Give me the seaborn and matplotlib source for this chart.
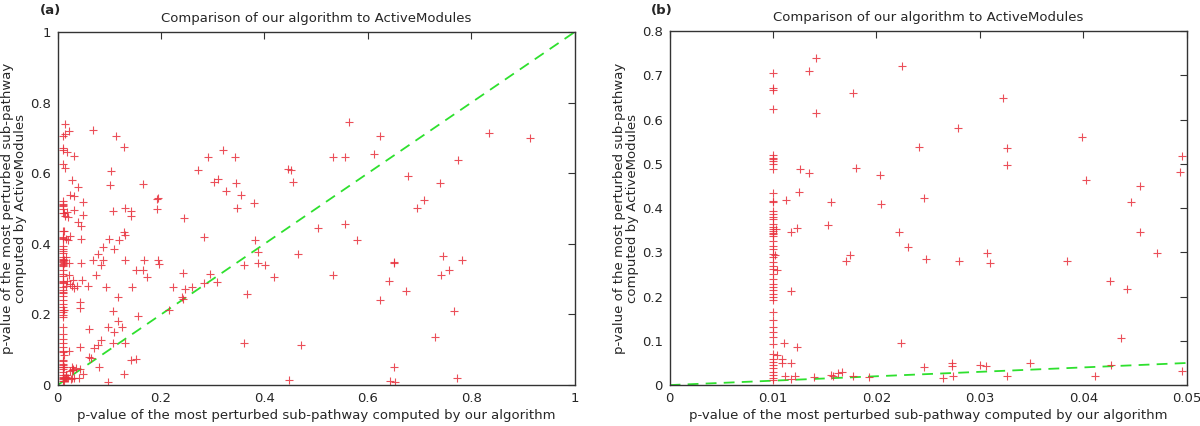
import numpy as np
import pandas as pd
import matplotlib
matplotlib.use('Agg')
import matplotlib.pyplot as plt
import seaborn as sns

# p-values: our algorithm (x) vs ActiveModules (y)

# points stacked on x = 0.01
column_y = [0.706, 0.672, 0.666, 0.625, 0.521, 0.514, 0.510, 0.506, 0.499, 0.488,
            0.435, 0.416, 0.413, 0.394, 0.386, 0.379, 0.375, 0.364, 0.357, 0.352,
            0.348, 0.344, 0.341, 0.338, 0.326, 0.315, 0.308, 0.296, 0.289, 0.278,
            0.270, 0.263, 0.251, 0.240, 0.229, 0.221, 0.214, 0.206, 0.199, 0.193,
            0.165, 0.146, 0.131, 0.120, 0.109, 0.094, 0.071, 0.060, 0.052, 0.045,
            0.038, 0.030, 0.023, 0.016, 0.011]
column_x = [0.01] * len(column_y)

# scattered points with small p-values
small_x = [0.0135, 0.0142, 0.0142, 0.0177, 0.0225, 0.0322, 0.0103, 0.0102, 0.0104, 0.0104,
           0.0109, 0.0109, 0.0111, 0.0113, 0.0117, 0.0117, 0.0117, 0.0112, 0.0117, 0.0121,
           0.0123, 0.0123, 0.0125, 0.0126, 0.0135, 0.0140, 0.0153, 0.0156, 0.0156, 0.0158,
           0.0163, 0.0167, 0.0171, 0.0174, 0.0177, 0.0180, 0.0193, 0.0203, 0.0204, 0.0222,
           0.0224, 0.0230, 0.0241, 0.0246, 0.0248, 0.0246, 0.0279, 0.0326, 0.0326, 0.0399,
           0.0403, 0.0495, 0.0493, 0.0455, 0.0446, 0.0455, 0.0471, 0.0280, 0.0307, 0.0310,
           0.0384, 0.0426, 0.0442, 0.0436, 0.0273, 0.0273, 0.0264, 0.0274, 0.0300, 0.0306,
           0.0326, 0.0348, 0.0411, 0.0427, 0.0495]
small_y = [0.710, 0.740, 0.615, 0.660, 0.720, 0.648, 0.353, 0.293, 0.260, 0.068,
           0.058, 0.050, 0.096, 0.418, 0.347, 0.212, 0.050, 0.020, 0.013, 0.020,
           0.355, 0.086, 0.437, 0.488, 0.480, 0.019, 0.362, 0.414, 0.022, 0.020,
           0.028, 0.030, 0.280, 0.295, 0.020, 0.490, 0.019, 0.475, 0.410, 0.347,
           0.096, 0.313, 0.539, 0.422, 0.285, 0.041, 0.580, 0.535, 0.497, 0.560,
           0.463, 0.518, 0.482, 0.450, 0.414, 0.347, 0.298, 0.280, 0.298, 0.276,
           0.280, 0.236, 0.218, 0.107, 0.051, 0.044, 0.017, 0.020, 0.045, 0.044,
           0.020, 0.049, 0.020, 0.045, 0.032]

# points with larger p-values
large_x = [0.068, 0.112, 0.129, 0.103, 0.102, 0.108, 0.100, 0.118, 0.110, 0.129,
           0.131, 0.131, 0.142, 0.142, 0.087, 0.079, 0.068, 0.083, 0.088, 0.075,
           0.094, 0.131, 0.144, 0.152, 0.166, 0.166, 0.168, 0.173, 0.192, 0.192,
           0.194, 0.195, 0.197, 0.116, 0.108, 0.116, 0.124, 0.097, 0.110, 0.083,
           0.079, 0.071, 0.061, 0.064, 0.081, 0.108, 0.131, 0.128, 0.097, 0.142,
           0.152, 0.155, 0.058, 0.060, 0.223, 0.216, 0.245, 0.243, 0.241, 0.247,
           0.243, 0.260, 0.271, 0.284, 0.284, 0.295, 0.290, 0.308, 0.302, 0.310,
           0.320, 0.325, 0.343, 0.345, 0.347, 0.354, 0.360, 0.361, 0.366, 0.379,
           0.381, 0.387, 0.387, 0.401, 0.419, 0.445, 0.452, 0.456, 0.465, 0.471,
           0.448, 0.503, 0.532, 0.532, 0.563, 0.624, 0.556, 0.611, 0.835, 0.913,
           0.775, 0.677, 0.739, 0.708, 0.695, 0.556, 0.579, 0.745, 0.782, 0.650,
           0.651, 0.756, 0.741, 0.641, 0.674, 0.624, 0.766, 0.729, 0.650, 0.642,
           0.653, 0.772]
large_y = [0.722, 0.706, 0.675, 0.607, 0.568, 0.494, 0.414, 0.411, 0.384, 0.433,
           0.425, 0.502, 0.494, 0.480, 0.390, 0.372, 0.355, 0.339, 0.355, 0.313,
           0.278, 0.355, 0.278, 0.327, 0.570, 0.327, 0.355, 0.306, 0.527, 0.499,
           0.530, 0.353, 0.344, 0.250, 0.210, 0.182, 0.165, 0.165, 0.151, 0.127,
           0.113, 0.104, 0.080, 0.078, 0.052, 0.118, 0.118, 0.031, 0.009, 0.071,
           0.075, 0.195, 0.282, 0.160, 0.278, 0.214, 0.474, 0.317, 0.250, 0.273,
           0.245, 0.278, 0.610, 0.419, 0.289, 0.314, 0.647, 0.292, 0.574, 0.584,
           0.666, 0.549, 0.647, 0.572, 0.502, 0.539, 0.339, 0.120, 0.259, 0.515,
           0.411, 0.377, 0.347, 0.339, 0.306, 0.612, 0.610, 0.574, 0.370, 0.113,
           0.014, 0.445, 0.647, 0.311, 0.746, 0.704, 0.647, 0.654, 0.714, 0.700,
           0.636, 0.593, 0.573, 0.525, 0.502, 0.455, 0.411, 0.366, 0.353, 0.348,
           0.345, 0.327, 0.311, 0.295, 0.266, 0.242, 0.209, 0.136, 0.050, 0.012,
           0.008, 0.019]

title = 'Comparison of our algorithm to ActiveModules'
xlabel = 'p-value of the most perturbed sub-pathway computed by our algorithm'
ylabel = 'p-value of the most perturbed sub-pathway\ncomputed by ActiveModules'

ticks_a = [0, 0.2, 0.4, 0.6, 0.8, 1]
ticklabels_a = ['0', '0.2', '0.4', '0.6', '0.8', '1']
xticks_b = [0, 0.01, 0.02, 0.03, 0.04, 0.05]
xticklabels_b = ['0', '0.01', '0.02', '0.03', '0.04', '0.05']
yticks_b = [0, 0.1, 0.2, 0.3, 0.4, 0.5, 0.6, 0.7, 0.8]
yticklabels_b = ['0', '0.1', '0.2', '0.3', '0.4', '0.5', '0.6', '0.7', '0.8']

df = pd.DataFrame({'ours': column_x + small_x + large_x,
                   'active': column_y + small_y + large_y})

sns.set_theme(style='white')
plt.rcParams['font.family'] = ['DejaVu Sans']
plt.rcParams['font.size'] = 9.5

fig = plt.figure(figsize=(12, 4.26), dpi=100)
ax_a = fig.add_axes([0.048, 0.096, 0.431, 0.829])
ax_b = fig.add_axes([0.558, 0.096, 0.431, 0.831])


def drawPanel(ax, xmax, ymax, xt, xtl, yt, ytl):
    # diagonal y = x
    ax.plot([0, 1], [0, 1], color='#2ee02e', lw=1.3, dashes=(6, 4), zorder=1)
    sns.scatterplot(data=df, x='ours', y='active', ax=ax, marker='+', color='#e8303c',
                    s=34, linewidth=0.8, alpha=0.85, zorder=2, clip_on=True)
    ax.set_xlim(0, xmax)
    ax.set_ylim(0, ymax)
    ax.set_xticks(xt)
    ax.set_xticklabels(xtl)
    ax.set_yticks(yt)
    ax.set_yticklabels(ytl)
    ax.tick_params(direction='in', length=5, width=0.8, top=True, right=True,
                   color='#333333', labelsize=9.5, pad=5)
    for sp in ax.spines.values():
        sp.set_color('#333333')
        sp.set_linewidth(1.0)
    ax.set_title(title, fontsize=9.5, pad=7)
    ax.set_xlabel(xlabel, fontsize=9.5, labelpad=3)
    ax.set_ylabel(ylabel, fontsize=9.5, labelpad=2, linespacing=1.0)


drawPanel(ax_a, 1, 1, ticks_a, ticklabels_a, ticks_a, ticklabels_a)
drawPanel(ax_b, 0.05, 0.8, xticks_b, xticklabels_b, yticks_b, yticklabels_b)

fig.text(0.033, 0.975, '(a)', fontsize=9.5, fontweight='bold', va='center')
fig.text(0.542, 0.975, '(b)', fontsize=9.5, fontweight='bold', va='center')

fig.savefig('out.png', dpi=100)
